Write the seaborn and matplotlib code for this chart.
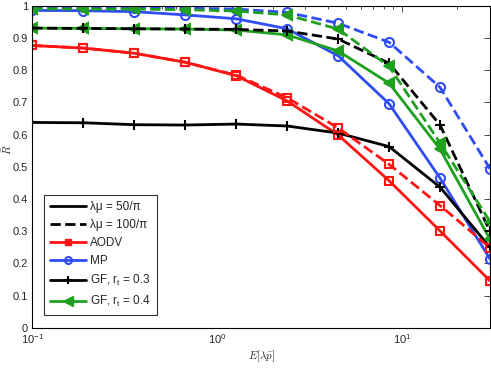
import numpy as np
import pandas as pd
import seaborn as sns
import matplotlib.pyplot as plt
from matplotlib.lines import Line2D

# x positions (log-spaced load values)
load = [0.1, 0.189, 0.356, 0.672, 1.27, 2.39, 4.52, 8.53, 16.1, 30.0]

# lambda*mu = 50/pi (solid)
aodv_50 = [0.877, 0.869, 0.853, 0.825, 0.783, 0.705, 0.599, 0.457, 0.301, 0.146]
mp_50 = [0.986, 0.985, 0.982, 0.972, 0.960, 0.929, 0.845, 0.696, 0.465, 0.214]
gf3_50 = [0.638, 0.637, 0.631, 0.630, 0.633, 0.627, 0.605, 0.563, 0.437, 0.250]
gf4_50 = [0.931, 0.930, 0.929, 0.928, 0.925, 0.910, 0.860, 0.760, 0.555, 0.275]

# lambda*mu = 100/pi (dashed)
aodv_100 = [0.877, 0.869, 0.853, 0.825, 0.785, 0.715, 0.621, 0.508, 0.380, 0.249]
mp_100 = [0.996, 0.995, 0.994, 0.993, 0.990, 0.980, 0.946, 0.887, 0.747, 0.494]
gf3_100 = [0.931, 0.930, 0.929, 0.928, 0.927, 0.922, 0.897, 0.822, 0.630, 0.300]
gf4_100 = [0.991, 0.990, 0.990, 0.988, 0.984, 0.972, 0.928, 0.812, 0.574, 0.330]

RED, BLUE, BLACK, GREEN = "#ff1414", "#2f4cf5", "#000000", "#1fa01f"

series = [
    # name, values, color, marker, linestyle, filled, size
    ("AODV", aodv_50, RED, "s", "-", False, 6),
    ("MP", mp_50, BLUE, "o", "-", False, 6.5),
    ("GF3", gf3_50, BLACK, "+", "-", False, 7),
    ("GF4", gf4_50, GREEN, "<", "-", True, 7.5),
    ("AODV", aodv_100, RED, "s", "--", False, 6),
    ("MP", mp_100, BLUE, "o", "--", False, 6.5),
    ("GF3", gf3_100, BLACK, "+", "--", False, 7),
    ("GF4", gf4_100, GREEN, "<", "--", True, 7.5),
]

sns.set_style("white")
plt.rcParams["font.family"] = ["Liberation Sans", "DejaVu Sans"]

fig, ax = plt.subplots(figsize=(4.91, 3.68), dpi=100)
fig.subplots_adjust(left=0.066, right=0.998, bottom=0.109, top=0.984)

for name, vals, col, mk, ls, filled, ms in series:
    df = pd.DataFrame({"x": load, "y": vals})
    sns.lineplot(data=df, x="x", y="y", ax=ax, color=col, marker=mk,
                 linestyle=ls, linewidth=2, markersize=ms,
                 markeredgewidth=1.5,
                 markerfacecolor=col if filled else "none",
                 markeredgecolor=col, legend=False)

ax.set_xscale("log")
ax.set_xlim(0.1, 30)
ax.set_ylim(0, 1)
ax.set_yticks(np.arange(0, 1.01, 0.1))
ax.set_yticklabels(["0", "0.1", "0.2", "0.3", "0.4", "0.5", "0.6", "0.7", "0.8", "0.9", "1"])
ax.tick_params(axis="both", which="both", direction="in", top=True, right=True,
               labelsize=8, pad=3)
ax.tick_params(which="major", length=4, width=0.6)
ax.tick_params(which="minor", length=2.5, width=0.6)
for s in ax.spines.values():
    s.set_linewidth(0.8)
    s.set_color("black")

ax.set_xlabel(r"$E[\lambda\bar{p}]$", math_fontfamily="cm", fontsize=8, labelpad=2)
ax.set_ylabel(r"$\bar{R}$", math_fontfamily="cm", fontsize=8)
ax.yaxis.set_label_coords(-0.04, 0.553)

handles = [
    Line2D([], [], color=BLACK, lw=2, ls="-"),
    Line2D([], [], color=BLACK, lw=2, ls="--"),
    Line2D([], [], color=RED, lw=2, marker="s", markersize=5, markerfacecolor=RED),
    Line2D([], [], color=BLUE, lw=2, marker="o", markersize=5, markerfacecolor="none", markeredgewidth=1.5),
    Line2D([], [], color=BLACK, lw=2, marker="+", markersize=6, markeredgewidth=1.5),
    Line2D([], [], color=GREEN, lw=2, marker="<", markersize=7, markerfacecolor=GREEN),
]
labels = ["λμ = 50/π", "λμ = 100/π", "AODV", "MP",
          r"GF, r$_\mathregular{t}$ = 0.3", r"GF, r$_\mathregular{t}$ = 0.4"]
leg = ax.legend(handles, labels, loc="lower left", bbox_to_anchor=(0.013, 0.022),
                fontsize=8.5, frameon=True, fancybox=False, borderpad=0.5,
                handlelength=3.0, labelspacing=0.5, handletextpad=0.4)
leg.get_frame().set_edgecolor("black")
leg.get_frame().set_linewidth(0.8)

fig.savefig("out.png", dpi=100)
